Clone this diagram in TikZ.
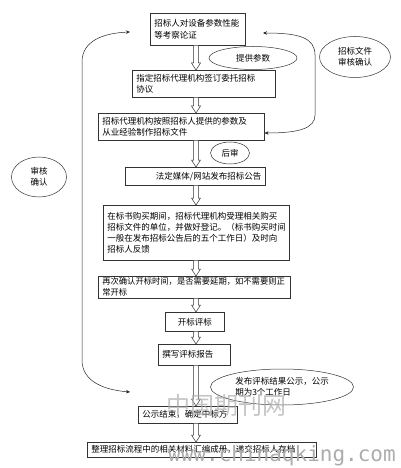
\documentclass[tikz,border=0pt]{standalone}
\usepackage{fontspec}
\setmainfont{Noto Sans CJK SC}
\newfontfamily\wmfont{DejaVu Sans Mono}
\usetikzlibrary{arrows.meta,calc,shapes.geometric}
\newcommand{\bodyfont}{\fontsize{8.5}{11.3}\selectfont}
\tikzset{
  blk/.style={draw=black!80, line width=0.6pt, anchor=north west, align=left,
              font=\bodyfont, inner xsep=4pt, inner ysep=2pt},
  oval/.style={draw=black!80, line width=0.5pt, ellipse, align=center,
               font=\bodyfont, inner sep=0pt},
  loopline/.style={{Stealth[length=4pt,width=3.5pt]}-{Stealth[length=4pt,width=3.5pt]},
                   line width=0.5pt, black!85},
  hollow/.style={draw=black!80, line width=0.5pt, fill=white},
  wm/.style={text=gray!65, inner sep=0pt},
}
% hollow block arrow, straight down from #1 to #2
\newcommand{\harrow}[2]{%
  \draw[hollow] let \p1=(#1), \p2=(#2) in
    (\x1-2.3pt,\y1) -- (\x1-2.3pt,\y2+7pt) -- (\x1-4.5pt,\y2+7pt) -- (\x1,\y2)
    -- (\x1+4.5pt,\y2+7pt) -- (\x1+2.3pt,\y2+7pt) -- (\x1+2.3pt,\y1);}

\begin{document}
\begin{tikzpicture}[x=1pt, y=-1pt]
  \useasboundingbox (0,0) rectangle (401,468);
  \coordinate (ax) at (196,0);
  % main chain
  \node[blk, text width=87pt, minimum height=32pt] (b1) at (150,13)
    {招标人对设备参数性能\\等考察论证};
  \node[blk, text width=135pt, minimum height=27pt] (b2) at (132,70)
    {指定招标代理机构签订委托招标\\协议};
  \node[blk, text width=158pt, minimum height=27pt] (b3) at (98,113)
    {招标代理机构按照招标人提供的参数及\\从业经验制作招标文件};
  \node[blk, text width=132pt, minimum height=18pt, align=right] (b4) at (125,167)
    {法定媒体/网站发布招标公告};
  \node[blk, text width=178pt, minimum height=55pt] (b5) at (103,205)
    {在标书购买期间，招标代理机构受理相关购买\\招标文件的单位，并做好登记。（标书购买时间\\一般在发布招标公告后的五个工作日）及时向\\招标人反馈};
  \node[blk, text width=184pt, minimum height=22pt, inner ysep=1pt,
        font=\fontsize{8.3}{11}\selectfont] (b6) at (98,276)
    {再次确认开标时间，是否需要延期，如不需要则正\\常开标};
  \node[blk, text width=51pt, minimum height=19pt, align=center] (b7) at (165,312) {开标评标};
  \node[blk, text width=64pt, minimum height=21pt] (b8) at (158,344) {撰写评标报告};
  \node[blk, text width=91pt, minimum height=17pt] (b9) at (138,406) {公示结束，确定中标方};
  \node[blk, text width=221pt, minimum height=15pt, inner ysep=1pt] (b10) at (87,442)
    {整理招标流程中的相关材料汇编成册，递交招标人存档};

  \harrow{b1.south -| ax}{b2.north -| ax}
  \harrow{b2.south -| ax}{b3.north -| ax}
  \harrow{b3.south -| ax}{b4.north -| ax}
  \harrow{b4.south -| ax}{b5.north -| ax}
  \harrow{b5.south -| ax}{b6.north -| ax}
  \harrow{b6.south -| ax}{b7.north -| ax}
  \harrow{b7.south -| ax}{b8.north -| ax}
  \harrow{b8.south -| ax}{b9.north -| ax}
  \harrow{b9.south -| ax}{b10.north -| ax}

  % notes
  \node[oval, minimum width=88pt, minimum height=23pt] (e1) at (253,58) {提供参数};
  \node[oval, minimum width=39pt, minimum height=22pt] (e2) at (230,153) {后审};
  \node[oval, minimum width=71pt, minimum height=41pt] (e3) at (355,57) {招标文件\\审核确认};
  \node[oval, minimum width=55pt, minimum height=40pt] (e4) at (39,177) {审核\\确认};
  \node[oval, minimum width=143pt, minimum height=36pt, align=left] (e5) at (282,387)
    {发布评标结果公示，公示\\期为3个工作日};

  % feedback loops
  \coordinate (ltop) at (130,32);
  \coordinate (lbot) at (130,392);
  \coordinate (rtop) at (263,33);
  \coordinate (rbot) at (b3.east |- 0,133);
  \draw[loopline] (lbot) .. controls (105,390) and (82,382) .. (82,360)
    -- (82,62) .. controls (82,40) and (105,33) .. (ltop);
  \draw[loopline] (rtop) .. controls (300,33) and (315,38) .. (315,55)
    -- (315,115) .. controls (315,128) and (300,133) .. (rbot);

  % watermark
  \node[wm, anchor=west, font=\fontsize{24}{24}\selectfont, opacity=0.7] (wm1) at (166,405) {中国期刊网};
  \node[wm, anchor=base west, font=\wmfont\fontsize{21}{21}\selectfont] (wm2) at (168,461) {www.chinaqking.com};
\end{tikzpicture}
\end{document}
